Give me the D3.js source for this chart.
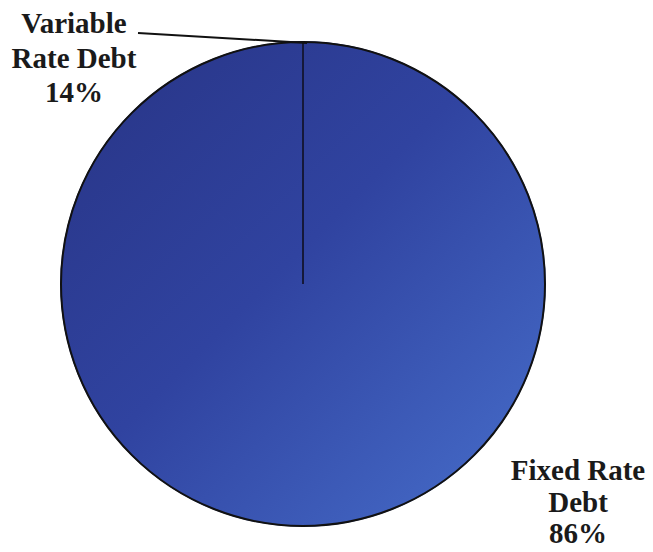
<!DOCTYPE html>
<html>
<head>
<meta charset="utf-8">
<script src="https://cdn.jsdelivr.net/npm/d3@7"></script>
<style>
  html, body { margin: 0; padding: 0; background: #fff; }
  svg { display: block; }
  text { font-family: "Liberation Serif", "Times New Roman", serif; font-weight: bold; fill: #1a1a1a; }
</style>
</head>
<body>
<svg id="chart" width="653" height="552"></svg>
<script>
const categories = ["Variable Rate Debt", "Fixed Rate Debt"];
const values = [14, 86];
const labelLines = [["Variable", "Rate Debt", "14%"], ["Fixed Rate", "Debt", "86%"]];

const W = 653, H = 552;
const cx = 303, cy = 284, R = 242;
const svg = d3.select("#chart");

const defs = svg.append("defs");
const grad = defs.append("linearGradient")
  .attr("id", "pieGrad")
  .attr("gradientUnits", "userSpaceOnUse")
  .attr("x1", -R * 0.75).attr("y1", -R * 0.75)
  .attr("x2", R * 0.75).attr("y2", R * 0.75);
grad.append("stop").attr("offset", "0%").attr("stop-color", "#2a388c");
grad.append("stop").attr("offset", "45%").attr("stop-color", "#3043a0");
grad.append("stop").attr("offset", "100%").attr("stop-color", "#4265c2");

const total = d3.sum(values);
const a0start = -values[0] / total * 2 * Math.PI;
const pie = d3.pie().sort(null).value(d => d)
  .startAngle(a0start)
  .endAngle(2 * Math.PI + a0start);
const arcs = pie(values);
const arc = d3.arc().innerRadius(0).outerRadius(R);

const g = svg.append("g").attr("transform", `translate(${cx},${cy})`);
g.selectAll("path.slice").data(arcs).enter().append("path")
  .attr("class", "slice")
  .attr("d", arc)
  .attr("fill", "url(#pieGrad)")
  .attr("stroke", "url(#pieGrad)")
  .attr("stroke-width", 1.5);

// outline
g.append("circle").attr("r", R).attr("fill", "none")
  .attr("stroke", "#111").attr("stroke-width", 2);

// the visible radial boundary between slices at top
const a0 = arcs[0].endAngle;
g.append("line")
  .attr("x1", 0).attr("y1", 0)
  .attr("x2", R * Math.sin(a0)).attr("y2", -R * Math.cos(a0))
  .attr("stroke", "#15193a").attr("stroke-width", 2);

// leader line for Variable label
const leaderEnd = [cx + R * Math.sin(a0) + 4, cy - R * Math.cos(a0) + 1];
svg.append("line")
  .attr("x1", 138).attr("y1", 33)
  .attr("x2", leaderEnd[0]).attr("y2", leaderEnd[1])
  .attr("stroke", "#111").attr("stroke-width", 2);

// labels
const labelPos = [{x: 74, y: 33, dy: 34.5}, {x: 578, y: 480, dy: 31.5}];
labelLines.forEach((lines, i) => {
  const t = svg.append("text")
    .attr("text-anchor", "middle")
    .attr("font-size", 29);
  lines.forEach((ln, j) => {
    t.append("tspan")
      .attr("x", labelPos[i].x)
      .attr("y", labelPos[i].y + j * labelPos[i].dy)
      .text(ln);
  });
});
</script>
</body>
</html>
